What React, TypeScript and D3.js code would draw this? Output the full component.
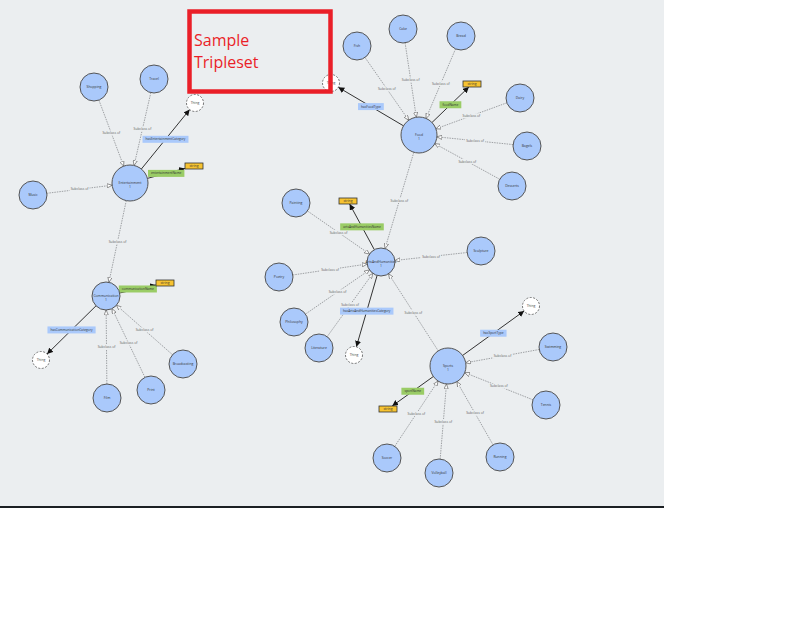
import React, { useEffect, useRef } from "react";
import * as d3 from "d3";

// ---------- data ----------
const classNodes = ["Entertainment", "Communication", "Food", "ArtsAndHumanities", "Sports"];
const classRadius = [18, 14, 18, 14, 18];
const leafNodes = [
  "Shopping", "Travel", "Music",
  "Film", "Print", "Broadcasting",
  "Fish", "Cake", "Bread", "Dairy", "Bagels", "Desserts",
  "Painting", "Poetry", "Philosophy", "Literature", "Sculpture",
  "Swimming", "Tennis", "Running", "Volleyball", "Soccer",
];
const thingNodes = ["thing1", "thing2", "thing3", "thing4", "thing5"];
const stringNodes = ["str1", "str2", "str3", "str4", "str5"];

// child -> parent ("Subclass of")
const subclassLinks: [string, string][] = [
  ["Shopping", "Entertainment"], ["Travel", "Entertainment"], ["Music", "Entertainment"],
  ["Entertainment", "Communication"],
  ["Film", "Communication"], ["Print", "Communication"], ["Broadcasting", "Communication"],
  ["Fish", "Food"], ["Cake", "Food"], ["Bread", "Food"], ["Dairy", "Food"], ["Bagels", "Food"], ["Desserts", "Food"],
  ["Food", "ArtsAndHumanities"], ["Sports", "ArtsAndHumanities"],
  ["Painting", "ArtsAndHumanities"], ["Poetry", "ArtsAndHumanities"], ["Philosophy", "ArtsAndHumanities"],
  ["Literature", "ArtsAndHumanities"], ["Sculpture", "ArtsAndHumanities"],
  ["Swimming", "Sports"], ["Tennis", "Sports"], ["Running", "Sports"], ["Volleyball", "Sports"], ["Soccer", "Sports"],
];

// property edges: source, target, label, type
const propertyLinks: [string, string, string, "object" | "datatype"][] = [
  ["Entertainment", "thing1", "hasEntertainmentCategory", "object"],
  ["Entertainment", "str1", "entertainmentName", "datatype"],
  ["Communication", "thing2", "hasCommunicationCategory", "object"],
  ["Communication", "str2", "communicationName", "datatype"],
  ["Food", "thing3", "hasFoodType", "object"],
  ["Food", "str3", "foodName", "datatype"],
  ["ArtsAndHumanities", "str4", "artsAndHumanitiesName", "datatype"],
  ["ArtsAndHumanities", "thing4", "hasArtsAndHumanitiesCategory", "object"],
  ["Sports", "thing5", "hasSportType", "object"],
  ["Sports", "str5", "sportName", "datatype"],
];

const titleLines = ["Sample", "Tripleset"];

// ---------- layout (graph node positions) ----------
const layout: Record<string, [number, number]> = {
  Entertainment: [130, 183], Shopping: [94, 87], Travel: [154, 79], Music: [33, 195],
  thing1: [195, 103], str1: [194, 166],
  Communication: [106, 296], Film: [107, 398], Print: [151, 390], Broadcasting: [183, 364],
  thing2: [41, 360], str2: [165, 283],
  Food: [419, 135], Fish: [357, 46], Cake: [403, 29], Bread: [461, 36], Dairy: [520, 98],
  Bagels: [527, 146], Desserts: [512, 186], thing3: [331, 83], str3: [472, 84],
  ArtsAndHumanities: [381, 262], Painting: [296, 203], Poetry: [279, 277], Philosophy: [294, 322],
  Literature: [319, 348], Sculpture: [481, 251], thing4: [354, 355], str4: [348, 201],
  Sports: [448, 366], Swimming: [553, 347], Tennis: [546, 405], Running: [500, 457],
  Volleyball: [439, 473], Soccer: [387, 458], thing5: [531, 306], str5: [388, 409],
};

const BG = "#ebeef0";
const NODE_FILL = "#aac9fb";
const GREEN = "#9acc66";
const YELLOW = "#f7c331";

type Shape = { kind: "circle"; r: number } | { kind: "rect"; w: number; h: number };

function shapeOf(id: string): Shape {
  const ci = classNodes.indexOf(id);
  if (ci >= 0) return { kind: "circle", r: classRadius[ci] };
  if (leafNodes.includes(id)) return { kind: "circle", r: 14 };
  if (thingNodes.includes(id)) return { kind: "circle", r: 8.5 };
  return { kind: "rect", w: 18, h: 6 };
}

function boundary(id: string, ux: number, uy: number): number {
  const s = shapeOf(id);
  if (s.kind === "circle") return s.r;
  const tx = Math.abs(ux) > 1e-6 ? s.w / 2 / Math.abs(ux) : Infinity;
  const ty = Math.abs(uy) > 1e-6 ? s.h / 2 / Math.abs(uy) : Infinity;
  return Math.min(tx, ty);
}

function endpoints(a: string, b: string) {
  const [x1, y1] = layout[a];
  const [x2, y2] = layout[b];
  const dx = x2 - x1, dy = y2 - y1;
  const len = Math.hypot(dx, dy);
  const ux = dx / len, uy = dy / len;
  const ra = boundary(a, ux, uy);
  const rb = boundary(b, ux, uy);
  const sx = x1 + ux * ra, sy = y1 + uy * ra;
  const ex = x2 - ux * rb, ey = y2 - uy * rb;
  return { x1: sx, y1: sy, x2: ex, y2: ey, mx: (sx + ex) / 2, my: (sy + ey) / 2 };
}

export default function App() {
  const ref = useRef<SVGSVGElement | null>(null);

  useEffect(() => {
    const svg = d3.select(ref.current);
    svg.selectAll("*").remove();

    const defs = svg.append("defs");
    defs.append("marker")
      .attr("id", "hollow").attr("viewBox", "0 -3 6 6").attr("refX", 6).attr("refY", 0)
      .attr("markerUnits", "userSpaceOnUse").attr("markerWidth", 5).attr("markerHeight", 5)
      .attr("orient", "auto")
      .append("path").attr("d", "M0,-2.5L6,0L0,2.5Z").attr("fill", "#fff").attr("stroke", "#666").attr("stroke-width", 0.8);
    defs.append("marker")
      .attr("id", "filled").attr("viewBox", "0 -3 6 6").attr("refX", 6).attr("refY", 0)
      .attr("markerUnits", "userSpaceOnUse").attr("markerWidth", 6).attr("markerHeight", 6)
      .attr("orient", "auto")
      .append("path").attr("d", "M0,-3L6,0L0,3Z").attr("fill", "#111");

    svg.append("rect").attr("x", 0).attr("y", 0).attr("width", 664).attr("height", 507).attr("fill", BG);
    svg.append("line").attr("x1", 0).attr("x2", 664).attr("y1", 507).attr("y2", 507)
      .attr("stroke", "#1b1f23").attr("stroke-width", 2);

    const font = "'Open Sans', 'DejaVu Sans', sans-serif";

    // subclass edges
    const sub = svg.append("g");
    subclassLinks.forEach(([c, p]) => {
      const e = endpoints(c, p);
      sub.append("line")
        .attr("x1", e.x1).attr("y1", e.y1).attr("x2", e.x2).attr("y2", e.y2)
        .attr("stroke", "#8a8d90").attr("stroke-width", 0.8).attr("stroke-dasharray", "1.5,1")
        .attr("marker-end", "url(#hollow)");
      sub.append("rect").attr("x", e.mx - 10).attr("y", e.my - 2.5).attr("width", 20).attr("height", 5).attr("fill", BG);
      sub.append("text").attr("x", e.mx).attr("y", e.my + 1.2).attr("text-anchor", "middle")
        .attr("font-family", font).attr("font-size", 3.4).attr("fill", "#666").text("Subclass of");
    });

    // property edges
    const prop = svg.append("g");
    propertyLinks.forEach(([s, t]) => {
      const e = endpoints(s, t);
      prop.append("line")
        .attr("x1", e.x1).attr("y1", e.y1).attr("x2", e.x2).attr("y2", e.y2)
        .attr("stroke", "#333").attr("stroke-width", 1).attr("marker-end", "url(#filled)");
    });

    // property labels
    propertyLinks.forEach(([s, t, label, type]) => {
      const e = endpoints(s, t);
      const g = prop.append("g");
      const txt = g.append("text").attr("x", e.mx).attr("y", e.my + 1.1).attr("text-anchor", "middle")
        .attr("font-family", font).attr("font-size", 3.2).attr("fill", "#333").text(label);
      const w = (txt.node() as SVGTextElement).getComputedTextLength() + 6;
      g.insert("rect", "text").attr("x", e.mx - w / 2).attr("y", e.my - 3.5).attr("width", w).attr("height", 7)
        .attr("fill", type === "object" ? NODE_FILL : GREEN);
    });

    // nodes
    const nodesG = svg.append("g");
    [...classNodes, ...leafNodes].forEach((id) => {
      const [x, y] = layout[id];
      const s = shapeOf(id) as { kind: "circle"; r: number };
      nodesG.append("circle").attr("cx", x).attr("cy", y).attr("r", s.r)
        .attr("fill", NODE_FILL).attr("stroke", "#555").attr("stroke-width", 1);
      const isClass = classNodes.includes(id);
      nodesG.append("text").attr("x", x).attr("y", y + (isClass ? 0.5 : 1.2)).attr("text-anchor", "middle")
        .attr("font-family", font).attr("font-size", 3.4).attr("fill", "#333").text(id);
      if (isClass) {
        nodesG.append("text").attr("x", x).attr("y", y + 5).attr("text-anchor", "middle")
          .attr("font-family", font).attr("font-size", 3.4).attr("fill", "#333").text("1");
      }
    });
    thingNodes.forEach((id) => {
      const [x, y] = layout[id];
      nodesG.append("circle").attr("cx", x).attr("cy", y).attr("r", 8.5)
        .attr("fill", "#fff").attr("stroke", "#555").attr("stroke-width", 0.8).attr("stroke-dasharray", "2,1.5");
      nodesG.append("text").attr("x", x).attr("y", y + 1.2).attr("text-anchor", "middle")
        .attr("font-family", font).attr("font-size", 3.4).attr("fill", "#444").text("Thing");
    });
    stringNodes.forEach((id) => {
      const [x, y] = layout[id];
      nodesG.append("rect").attr("x", x - 9).attr("y", y - 3).attr("width", 18).attr("height", 6)
        .attr("fill", YELLOW).attr("stroke", "#333").attr("stroke-width", 0.8);
      nodesG.append("text").attr("x", x).attr("y", y + 1.2).attr("text-anchor", "middle")
        .attr("font-family", font).attr("font-size", 3.4).attr("fill", "#333").text("string");
    });

    // title box
    svg.append("rect").attr("x", 189.5).attr("y", 11.5).attr("width", 141).attr("height", 80)
      .attr("fill", "none").attr("stroke", "#ea1f28").attr("stroke-width", 4.5);
    titleLines.forEach((t, i) => {
      svg.append("text").attr("x", 194).attr("y", 46 + i * 22)
        .attr("font-family", font).attr("font-size", 16).attr("fill", "#ea1f28").text(t);
    });
  }, []);

  return (
    <div style={{ position: "absolute", left: 0, top: 0 }}>
      <svg ref={ref} width={787} height={625} style={{ display: "block" }} />
    </div>
  );
}
